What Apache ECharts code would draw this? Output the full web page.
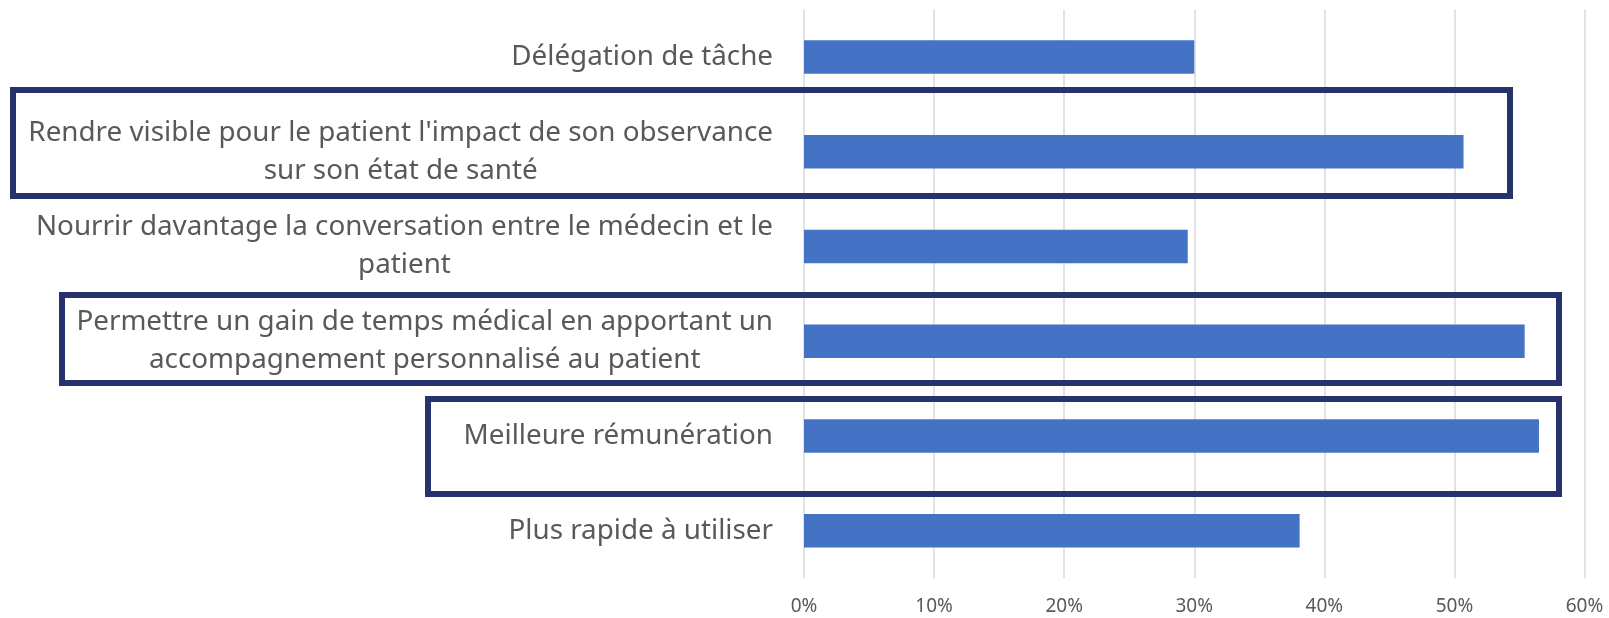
<!DOCTYPE html>
<html>
<head>
<meta charset="utf-8">
<script src="https://cdn.jsdelivr.net/npm/echarts@6/dist/echarts.min.js"></script>
<style>
html,body{margin:0;padding:0;background:#fff;}
#chart{width:1609px;height:618px;}
</style>
</head>
<body>
<div id="chart"></div>
<script>
const categories = [
  "Délégation de tâche",
  "Rendre visible pour le patient l'impact de son observance\nsur son état de santé",
  "Nourrir davantage la conversation entre le médecin et le\npatient",
  "Permettre un gain de temps médical en apportant un\naccompagnement personnalisé au patient",
  "Meilleure rémunération",
  "Plus rapide à utiliser"
];
const values = [30.0, 50.7, 29.5, 55.4, 56.5, 38.1];
const xTicks = { min: 0, max: 60, interval: 10 };

const chart = echarts.init(document.getElementById('chart'));
const labelFont = "'Noto Sans', sans-serif";
const boxColor = '#25326B';

chart.setOption({
  animation: false,
  grid: { left: 804, right: 24.5, top: 9.6, bottom: 39.8, containLabel: false },
  xAxis: {
    type: 'value', min: xTicks.min, max: xTicks.max, interval: xTicks.interval,
    axisLine: { show: false }, axisTick: { show: false },
    splitLine: { lineStyle: { color: '#d9d9d9', width: 1.5 } },
    axisLabel: { formatter: '{value}%', color: '#595959', fontSize: 19, fontFamily: labelFont, margin: 19 }
  },
  yAxis: {
    type: 'category', data: categories, inverse: true,
    axisLine: { show: false }, axisTick: { show: false },
    axisLabel: {
      margin: 31,
      formatter: v => v.split('\n').map(l => '{c|' + l + '}').join('\n'),
      rich: { c: { align: 'center', color: '#595959', fontSize: 27.8, fontFamily: labelFont, lineHeight: 38 } }
    }
  },
  series: [{
    type: 'bar', data: values, barWidth: 33.5,
    itemStyle: { color: '#4472C4' }
  }],
  graphic: [
    { type: 'rect', shape: { x: 13, y: 90, width: 1497, height: 106 }, style: { fill: 'none', stroke: boxColor, lineWidth: 6 }, z: 100 },
    { type: 'rect', shape: { x: 62, y: 295, width: 1497, height: 88 }, style: { fill: 'none', stroke: boxColor, lineWidth: 6 }, z: 100 },
    { type: 'rect', shape: { x: 428, y: 399, width: 1131, height: 95 }, style: { fill: 'none', stroke: boxColor, lineWidth: 6 }, z: 100 }
  ]
});
</script>
</body>
</html>
